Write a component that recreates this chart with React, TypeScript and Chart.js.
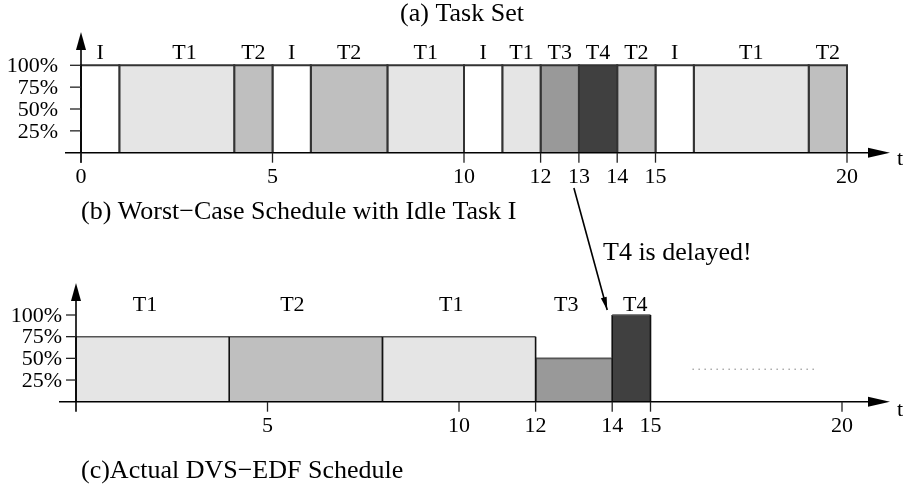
import React, { useEffect, useRef } from 'react';
import { Chart, registerables } from 'chart.js';

Chart.register(...registerables);

// ---- data ----
const TIME_TICKS_A = [0, 5, 10, 12, 13, 14, 15, 20];
const TIME_TICKS_C = [5, 10, 12, 14, 15, 20];
const LOAD_TICKS = [25, 50, 75, 100];

const A_TASKS = ['I', 'T1', 'T2', 'I', 'T2', 'T1', 'I', 'T1', 'T3', 'T4', 'T2', 'I', 'T1', 'T2'];
const A_START = [0, 1, 4, 5, 6, 8, 10, 11, 12, 13, 14, 15, 16, 19];
const A_END = [1, 4, 5, 6, 8, 10, 11, 12, 13, 14, 15, 16, 19, 20];
const A_LOAD = [100, 100, 100, 100, 100, 100, 100, 100, 100, 100, 100, 100, 100, 100];
const A_LABEL_T = [0.5, 2.7, 4.5, 5.5, 7, 9, 10.5, 11.5, 12.5, 13.5, 14.5, 15.5, 17.5, 19.5];

const C_TASKS = ['T1', 'T2', 'T1', 'T3', 'T4'];
const C_START = [0, 4, 8, 12, 14];
const C_END = [4, 8, 12, 14, 15];
const C_LOAD = [75, 75, 75, 50, 100];
const C_LABEL_T = [1.8, 5.65, 9.8, 12.8, 14.6];

const C_CONTINUE_X = [16.1, 19.35];
const C_CONTINUE_LOAD = 37.5;

const TITLE_A = '(a) Task Set';
const TITLE_B = '(b) Worst\u2212Case Schedule with Idle Task I';
const TITLE_C = '(c)Actual DVS\u2212EDF Schedule';
const NOTE = 'T4 is delayed!';
const ARROW_FROM_T = 13;
const ARROW_TO_T = 14;

const TASK_COLORS: Record<string, string> = {
  I: '#ffffff',
  T1: '#e5e5e5',
  T2: '#bfbfbf',
  T3: '#999999',
  T4: '#404040',
};

const FONT = '"Liberation Serif", "Times New Roman", serif';
const LABEL_FONT = `22px ${FONT}`;
const TITLE_FONT = `26px ${FONT}`;

function rectDatasets(tasks: string[], starts: number[], ends: number[], loads: number[], top: string, side: string, bw: number) {
  return tasks.map((t, i) => ({
    label: t,
    data: [
      { x: starts[i], y: 0 },
      { x: starts[i], y: loads[i] },
      { x: ends[i], y: loads[i] },
      { x: ends[i], y: 0 },
    ],
    fill: 'origin',
    backgroundColor: TASK_COLORS[t],
    borderColor: side,
    borderWidth: bw,
    pointRadius: 0,
    tension: 0,
    clip: false,
    segment: {
      borderColor: (c: any) => (c.p0.parsed.y === c.p1.parsed.y ? top : side),
    },
  }));
}

function arrowHead(ctx: CanvasRenderingContext2D, tx: number, ty: number, angle: number, len: number, half: number) {
  ctx.save();
  ctx.translate(tx, ty);
  ctx.rotate(angle);
  ctx.beginPath();
  ctx.moveTo(0, 0);
  ctx.lineTo(-len, -half);
  ctx.lineTo(-len, half);
  ctx.closePath();
  ctx.fill();
  ctx.restore();
}

type PanelCfg = {
  ticks: number[];
  yTickIn: number;
  yLabelGap: number;
  xAxisLeft: number;
  yArrowTop: number;
  labels: { tasks: string[]; at: number[]; dy: number };
  tLabelDy: number;
};

function drawPanel(chart: any, cfg: PanelCfg) {
  const { ctx } = chart;
  const x = chart.scales.x;
  const y = chart.scales.y;
  const x0 = x.getPixelForValue(0);
  const y0 = y.getPixelForValue(0);
  const xEnd = 890;
  ctx.save();
  ctx.strokeStyle = '#000';
  ctx.fillStyle = '#000';
  ctx.lineWidth = 1.6;
  // y axis
  ctx.beginPath();
  ctx.moveTo(x0, y0 + 10);
  ctx.lineTo(x0, cfg.yArrowTop + 10);
  ctx.stroke();
  arrowHead(ctx, x0, cfg.yArrowTop, -Math.PI / 2, 18, 5);
  // x axis
  ctx.beginPath();
  ctx.moveTo(x0 - cfg.xAxisLeft, y0);
  ctx.lineTo(xEnd - 10, y0);
  ctx.stroke();
  arrowHead(ctx, xEnd, y0, 0, 22, 5);
  // x ticks
  ctx.lineWidth = 1.3;
  ctx.strokeStyle = '#222';
  ctx.font = LABEL_FONT;
  ctx.textAlign = 'center';
  ctx.textBaseline = 'middle';
  cfg.ticks.forEach((v) => {
    const px = x.getPixelForValue(v);
    ctx.beginPath();
    ctx.moveTo(px, y0);
    ctx.lineTo(px, y0 + 10);
    ctx.stroke();
    ctx.fillText(String(v), px, y0 + 25);
  });
  ctx.fillText('t', 900, y0 + cfg.tLabelDy);
  // y ticks
  ctx.textAlign = 'right';
  LOAD_TICKS.forEach((v) => {
    const py = y.getPixelForValue(v);
    ctx.beginPath();
    ctx.moveTo(x0 - cfg.yTickIn, py);
    ctx.lineTo(x0, py);
    ctx.stroke();
    ctx.fillText(`${v}%`, x0 - cfg.yLabelGap, py + 1);
  });
  // task labels
  ctx.textAlign = 'center';
  const yTop = y.getPixelForValue(100) - cfg.labels.dy;
  cfg.labels.tasks.forEach((t, i) => {
    ctx.fillText(t, x.getPixelForValue(cfg.labels.at[i]), yTop);
  });
  ctx.restore();
}

const baseOptions = (padding: any) => ({
  responsive: false,
  animation: false as const,
  events: [] as any[],
  layout: { padding },
  scales: {
    x: { type: 'linear' as const, min: 0, max: 20, display: false },
    y: { type: 'linear' as const, min: 0, max: 100, display: false },
  },
  plugins: { legend: { display: false }, tooltip: { enabled: false }, title: { display: false } },
});

export default function App() {
  const refA = useRef<HTMLCanvasElement | null>(null);
  const refC = useRef<HTMLCanvasElement | null>(null);

  useEffect(() => {
    const chartA = new Chart(refA.current as HTMLCanvasElement, {
      type: 'line',
      data: { datasets: rectDatasets(A_TASKS, A_START, A_END, A_LOAD, '#333', '#333', 2) as any },
      options: baseOptions({ left: 81, right: 57, top: 65.3, bottom: 332.3 }) as any,
      plugins: [
        {
          id: 'panelA',
          afterDraw(chart: any) {
            drawPanel(chart, {
              ticks: TIME_TICKS_A,
              yTickIn: 11,
              yLabelGap: 23,
              xAxisLeft: 16,
              yArrowTop: 32,
              labels: { tasks: A_TASKS, at: A_LABEL_T, dy: 12 },
              tLabelDy: 7,
            });
            const ctx = chart.ctx;
            ctx.save();
            ctx.fillStyle = '#000';
            ctx.font = TITLE_FONT;
            ctx.textBaseline = 'middle';
            ctx.textAlign = 'center';
            ctx.fillText(TITLE_A, 462, 14);
            ctx.restore();
          },
        },
      ],
    });

    const chartC = new Chart(refC.current as HTMLCanvasElement, {
      type: 'line',
      data: {
        datasets: [
          ...(rectDatasets(C_TASKS, C_START, C_END, C_LOAD, '#555', '#111', 1.6) as any),
          {
            label: 'continue',
            data: C_CONTINUE_X.map((v) => ({ x: v, y: C_CONTINUE_LOAD })),
            borderColor: '#444',
            borderWidth: 1,
            borderDash: [1, 5],
            pointRadius: 0,
            fill: false,
            clip: false,
          },
        ],
      },
      options: baseOptions({ left: 76, right: 62, top: 315, bottom: 83.3 }) as any,
      plugins: [
        {
          id: 'panelC',
          afterDraw(chart: any) {
            drawPanel(chart, {
              ticks: TIME_TICKS_C,
              yTickIn: 10,
              yLabelGap: 14,
              xAxisLeft: 17,
              yArrowTop: 283,
              labels: { tasks: C_TASKS, at: C_LABEL_T, dy: 10 },
              tLabelDy: 9,
            });
            const { ctx } = chart;
            const x = chart.scales.x;
            const y = chart.scales.y;
            ctx.save();
            ctx.fillStyle = '#000';
            ctx.strokeStyle = '#000';
            ctx.font = TITLE_FONT;
            ctx.textBaseline = 'middle';
            ctx.textAlign = 'left';
            ctx.fillText(TITLE_B, 81, 212);
            ctx.fillText(TITLE_C, 81, 471);
            ctx.fillText(NOTE, 603, 253);
            // arrow from top panel to bottom panel
            const sx = x.getPixelForValue(ARROW_FROM_T);
            const sy = 188;
            const ex = x.getPixelForValue(ARROW_TO_T) - 5;
            const ey = y.getPixelForValue(100) - 5;
            ctx.lineWidth = 1.6;
            ctx.beginPath();
            ctx.moveTo(sx, sy);
            ctx.lineTo(ex, ey);
            ctx.stroke();
            arrowHead(ctx, ex, ey, Math.atan2(ey - sy, ex - sx), 13, 3);
            ctx.restore();
          },
        },
      ],
    });

    return () => {
      chartA.destroy();
      chartC.destroy();
    };
  }, []);

  const canvasStyle: React.CSSProperties = { position: 'absolute', left: 0, top: 0 };
  return (
    <div style={{ position: 'fixed', left: 0, top: 0, width: 904, height: 485, background: '#fff' }}>
      <canvas ref={refA} width={904} height={485} style={canvasStyle} />
      <canvas ref={refC} width={904} height={485} style={canvasStyle} />
    </div>
  );
}
